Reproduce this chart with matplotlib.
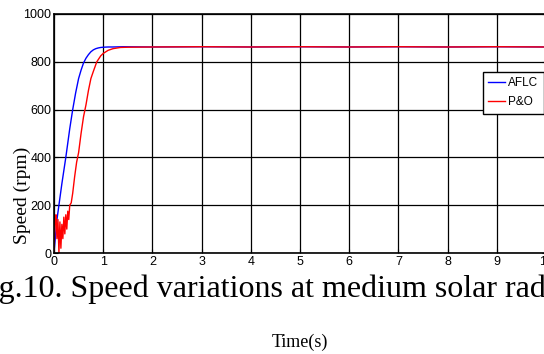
import matplotlib
matplotlib.use("Agg")
import matplotlib.pyplot as plt
from matplotlib import font_manager

# ---- data ----
afl_t = [0.0, 0.03, 0.06, 0.09, 0.12, 0.16, 0.20, 0.24, 0.28, 0.32, 0.38, 0.44, 0.50,
         0.55, 0.60, 0.65, 0.70, 0.75, 0.80, 0.85, 0.90, 0.95, 1.00, 1.10, 1.20,
         1.40, 2.0, 3.0, 4.0, 5.0, 6.0, 7.0, 8.0, 9.0, 10.0]
afl_v = [0, 70, 140, 185, 230, 290, 345, 400, 460, 520, 600, 670, 730,
         765, 795, 815, 830, 842, 850, 855, 858, 860, 861, 862, 862,
         863, 862, 863, 862, 863, 862, 863, 862, 863, 862]

po_t = [0.0, 0.02, 0.04, 0.06, 0.08, 0.10, 0.12, 0.14, 0.16, 0.18, 0.20, 0.22, 0.24,
        0.26, 0.28, 0.30, 0.32, 0.35, 0.38, 0.42, 0.46, 0.50, 0.55, 0.60, 0.65,
        0.70, 0.75, 0.80, 0.87, 0.95, 1.00, 1.10, 1.20, 1.35, 1.50, 2.0, 3.0,
        4.0, 5.0, 6.0, 7.0, 8.0, 9.0, 10.0]
po_v = [0, 120, 160, 60, 140, 0, 130, 20, 120, 60, 150, 80, 160,
        100, 175, 140, 200, 210, 250, 320, 380, 420, 500, 570, 620,
        680, 730, 760, 800, 825, 835, 848, 855, 860, 861, 862, 863,
        862, 863, 862, 863, 862, 863, 862]

x_ticks = list(range(0, 11))
y_ticks = [0, 200, 400, 600, 800, 1000]
series_labels = ["AFLC", "P&O"]
caption = "Fig.10. Speed variations at medium solar radiation"

# ---- fonts ----
names = {f.name for f in font_manager.fontManager.ttflist}
narrow = "Liberation Sans Narrow" if "Liberation Sans Narrow" in names else "Liberation Sans"
serif = "Liberation Serif"

fig = plt.figure(figsize=(5.44, 3.54), dpi=100)
fig.patch.set_facecolor("white")
ax = fig.add_axes([54/544, 1 - 253/354, 492/544, (253 - 14)/354])

ax.plot(afl_t, afl_v, color="#0000ff", lw=1.0, label=series_labels[0])
ax.plot(po_t, po_v, color="#ff0000", lw=1.0, label=series_labels[1])

ax.set_xlim(0, 10)
ax.set_ylim(0, 1000)
ax.set_xticks(x_ticks)
ax.set_yticks(y_ticks)
ax.grid(True, color="black", lw=0.9, ls="-")
ax.tick_params(direction="in", length=3, width=0.8, top=True, right=True,
               labelsize=9, pad=2)
for lab in ax.get_xticklabels() + ax.get_yticklabels():
    lab.set_fontfamily(narrow)
for s in ax.spines.values():
    s.set_linewidth(1.2)
    s.set_color("black")

leg = ax.legend(loc="upper left", bbox_to_anchor=((483 - 54)/492, 1 - (72 - 14)/239),
                borderaxespad=0, prop={"family": narrow, "size": 8.5}, handlelength=1.4,
                handletextpad=0.3, borderpad=0.45, labelspacing=0.6,
                fancybox=False, framealpha=1, edgecolor="black")
leg.get_frame().set_linewidth(1.0)

fig.text(22/544, 1 - 195/354, "Speed (rpm)", rotation=90, ha="center", va="center",
         family=serif, fontsize=14)
fig.text(-28/544, 1 - 297/354, caption, ha="left", va="baseline",
         family=serif, fontsize=23)
fig.text(300/544, 1 - 342/354, "Time(s)", ha="center", va="center",
         family=serif, fontsize=13)

fig.savefig("out.png", dpi=100)
